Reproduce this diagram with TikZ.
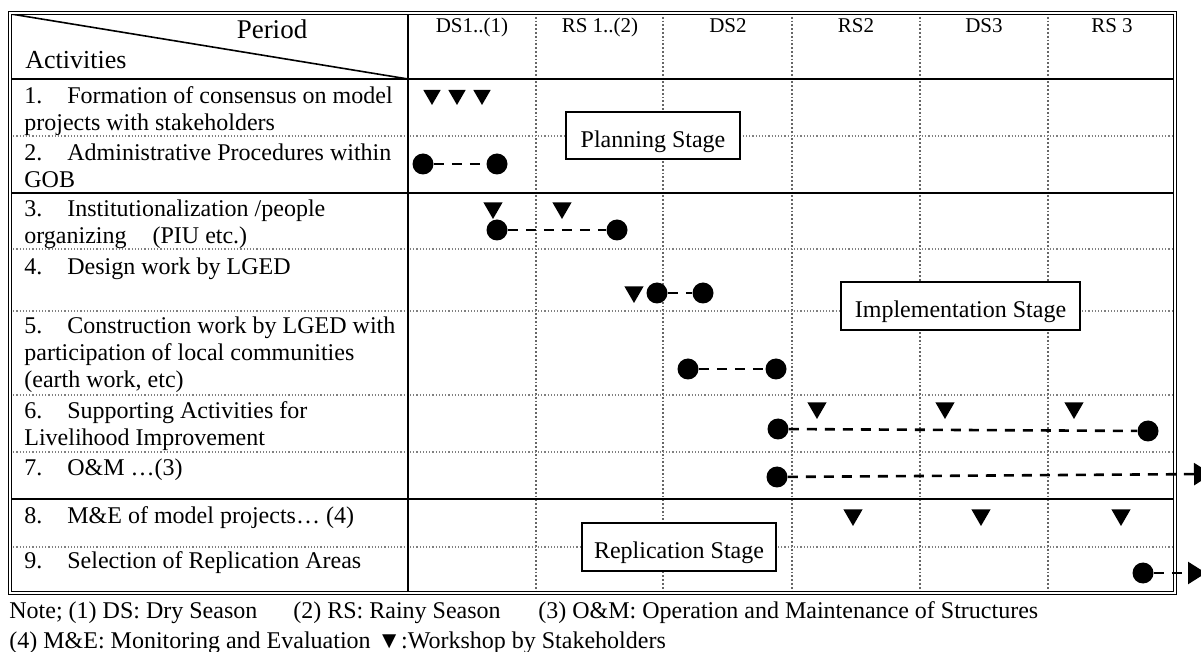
\documentclass[tikz,border=0pt]{standalone}
\usepackage{fontspec}
\setmainfont{Liberation Serif}
\usepackage{tikz}
\usetikzlibrary{arrows.meta,shapes.geometric,positioning}

\newcommand{\itemno}[1]{\makebox[21.5pt][l]{#1}}
\newcommand{\rowfont}{\fontsize{12}{13.5}\selectfont}

\tikzset{
	bullet/.style={circle,fill=black,inner sep=0pt,minimum size=10.5pt},
	wshop/.style={regular polygon,regular polygon sides=3,shape border rotate=180,fill=black,inner sep=0pt,minimum size=11pt},
	dashline/.style={line width=1.3pt,dash pattern=on 5pt off 4pt},
	vgrid/.style={black!60,line width=0.9pt,densely dotted},
	hgrid/.style={gray,line width=0.6pt,densely dotted},
	rule/.style={line width=1pt},
	stagebox/.style={draw,fill=white,line width=0.6pt,inner sep=0pt,text height=13pt,text depth=1pt,font=\rowfont},
	act/.style={anchor=north west,align=left,inner sep=0pt,font=\rowfont},
	colhead/.style={anchor=base,inner sep=0pt,font=\fontsize{10.5}{12}\selectfont},
	note/.style={anchor=base west,inner sep=0pt,font=\rowfont}
}

\begin{document}
\begin{tikzpicture}[x=0.5pt,y=-0.5pt]
		\useasboundingbox (0,0) rectangle (1201,652);

		% grid
		\draw[vgrid] (536,13) -- (536,593);
		\draw[vgrid] (663,13) -- (663,593);
		\draw[vgrid] (792,13) -- (792,593);
		\draw[vgrid] (920,13) -- (920,593);
		\draw[vgrid] (1048,13) -- (1048,593);
		\draw[hgrid] (10,136) -- (1175,136);
		\draw[hgrid] (10,249) -- (1175,249);
		\draw[hgrid] (10,311) -- (1175,311);
		\draw[hgrid] (10,395) -- (1175,395);
		\draw[hgrid] (10,452) -- (1175,452);
		\draw[hgrid] (10,547) -- (1175,547);
		\draw[rule] (10,79) -- (1175,79);
		\draw[rule] (10,193) -- (1175,193);
		\draw[rule] (10,499) -- (1175,499);
		\draw[rule] (408,13) -- (408,593);
		\draw[line width=0.8pt] (11,14) -- (408,79);
		\draw[line width=0.8pt, double, double distance=0.6pt] (10,13) rectangle (1175,593);

		% header
		\node[anchor=base, inner sep=0pt, font=\fontsize{13.5}{15}\selectfont] (period) at (272,39) {Period};
		\node[anchor=base west, inner sep=0pt, font=\fontsize{13}{15}\selectfont] (activities) at (25,69) {Activities};
		\node[colhead] (H1) at (472,33) {DS1..(1)};
		\node[colhead] (H2) at (600,33) {RS 1..(2)};
		\node[colhead] (H3) at (728,33) {DS2};
		\node[colhead] (H4) at (856,33) {RS2};
		\node[colhead] (H5) at (984,33) {DS3};
		\node[colhead] (H6) at (1112,33) {RS 3};

		% activities
		\node[act] (A1) at (24,84) {\strut\itemno{1.}Formation of consensus on model\\projects with stakeholders};
		\node[act] (A2) at (24,141) {\strut\itemno{2.}Administrative Procedures within\\GOB};
		\node[act] (A3) at (24,197) {\strut\itemno{3.}Institutionalization /people\\organizing\hspace{10pt} (PIU etc.)};
		\node[act] (A4) at (24,255) {\strut\itemno{4.}Design work by LGED};
		\node[act] (A5) at (24,314) {\strut\itemno{5.}Construction work by LGED with\\participation of local communities\\(earth work, etc)};
		\node[act] (A6) at (24,399) {\strut\itemno{6.}Supporting Activities for\\Livelihood Improvement};
		\node[act] (A7) at (24,456) {\strut\itemno{7.}O\&M …(3)};
		\node[act] (A8) at (24,504) {\strut\itemno{8.}M\&E of model projects… (4)};
		\node[act] (A9) at (24,549) {\strut\itemno{9.}Selection of Replication Areas};

		% stages
		\node[stagebox, minimum width=87pt, minimum height=23.5pt] (planning) at (653,135.5) {Planning Stage};
		\node[stagebox, minimum width=119.5pt, minimum height=24pt] (implementation) at (960.5,306) {Implementation Stage};
		\node[stagebox, minimum width=97pt, minimum height=24pt] (replication) at (679,547) {Replication Stage};

		% workshops
		\node[wshop, minimum size=10pt] (W1a) at (432,95) {};
		\node[wshop, minimum size=10pt] (W1b) at (457,95) {};
		\node[wshop, minimum size=10pt] (W1c) at (482,95) {};
		\node[wshop] (W3a) at (493,208) {};
		\node[wshop] (W3b) at (562,208) {};
		\node[wshop] (W4) at (634,292) {};
		\node[wshop] (W6a) at (817,408) {};
		\node[wshop] (W6b) at (945,408) {};
		\node[wshop] (W6c) at (1074,408) {};
		\node[wshop] (W8a) at (853,515) {};
		\node[wshop] (W8b) at (981,515) {};
		\node[wshop] (W8c) at (1121,515) {};

		% schedules
		\node[bullet] (D2a) at (423,164) {};
		\node[bullet] (D2b) at (497,164) {};
		\node[bullet] (D3a) at (497,230) {};
		\node[bullet] (D3b) at (617,230) {};
		\node[bullet] (D4a) at (657,293) {};
		\node[bullet] (D4b) at (703,293) {};
		\node[bullet] (D5a) at (688,369) {};
		\node[bullet] (D5b) at (776,369) {};
		\node[bullet] (D6a) at (778,429) {};
		\node[bullet] (D6b) at (1148,431) {};
		\node[bullet] (D7) at (777,477) {};
		\node[bullet] (D9) at (1143,573) {};
		\coordinate (E7) at (1212,474);
		\coordinate (E9) at (1206,573);

		\draw[dashline] (D2a) -- (D2b);
		\draw[dashline] (D3a) -- (D3b);
		\draw[dashline] (D4a) -- (D4b);
		\draw[dashline] (D5a) -- (D5b);
		\draw[dashline] (D6a) -- (D6b);
		\draw[dashline, -{Triangle[length=9pt,width=11pt]}] (D7) -- (E7);
		\draw[dashline, -{Triangle[length=9pt,width=11pt]}] (D9) -- (E9);

		% notes
		\node[note] (N1) at (9,618) {Note; (1) DS: Dry Season};
		\node[note] (N2) at (293,618) {(2) RS: Rainy Season};
		\node[note] (N3) at (538,618) {(3) O\&M: Operation and Maintenance of Structures};
		\node[note] (N4) at (9,648) {(4) M\&E: Monitoring and Evaluation};
		\node[note] (N5) at (373,648) {\hspace{2pt}▼:Workshop by Stakeholders};
	\end{tikzpicture}
\end{document}
